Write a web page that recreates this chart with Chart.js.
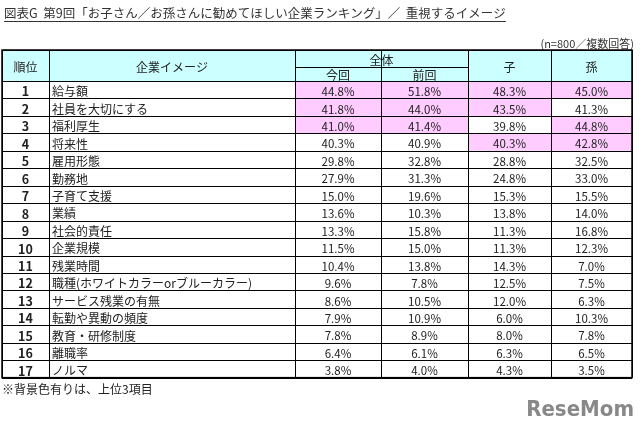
<!DOCTYPE html>
<html lang="ja">
<head>
<meta charset="UTF-8">
<title>企業ランキング</title>
<script src="https://cdn.jsdelivr.net/npm/chart.js"></script>
<style>
  html, body { margin: 0; padding: 0; background: #fff; }
  #wrap { width: 640px; height: 426px; }
</style>
</head>
<body>
<div id="wrap"><canvas id="tbl"></canvas></div>
<script>
const ranks = [1,2,3,4,5,6,7,8,9,10,11,12,13,14,15,16,17];
const images = ['給与額','社員を大切にする','福利厚生','将来性','雇用形態','勤務地','子育て支援','業績','社会的責任','企業規模','残業時間','職種(ホワイトカラーorブルーカラー)','サービス残業の有無','転勤や異動の頻度','教育・研修制度','離職率','ノルマ'];
const konkai = [44.8,41.8,41.0,40.3,29.8,27.9,15.0,13.6,13.3,11.5,10.4,9.6,8.6,7.9,7.8,6.4,3.8];
const zenkai = [51.8,44.0,41.4,40.9,32.8,31.3,19.6,10.3,15.8,15.0,13.8,7.8,10.5,10.9,8.9,6.1,4.0];
const ko     = [48.3,43.5,39.8,40.3,28.8,24.8,15.3,13.8,11.3,11.3,14.3,12.5,12.0,6.0,8.0,6.3,4.3];
const mago   = [45.0,41.3,44.8,42.8,32.5,33.0,15.5,14.0,16.8,12.3,7.0,7.5,6.3,10.3,7.8,6.5,3.5];
const headers = ['順位','企業イメージ','全体','今回','前回','子','孫'];

// column edges (x units) and row geometry
const colEdges = [2, 49, 295, 381, 468, 551, 632];
const tableTop = 50, headMid = 67, headBottom = 81, rowH = 17.45;
const FONT = '"Noto Sans CJK JP", sans-serif';

function top3(arr) {
  const s = [...arr].sort((a, b) => b - a);
  return arr.map(v => v >= s[2]);
}

const tablePlugin = {
  id: 'tablePlugin',
  afterDraw(chart) {
    const ctx = chart.ctx, X = chart.scales.x, Y = chart.scales.y;
    const px = v => X.getPixelForValue(v), py = v => Y.getPixelForValue(v);
    const rowTop = i => headBottom + i * rowH;
    const tableBottom = rowTop(ranks.length);
    ctx.save();
    ctx.textBaseline = 'middle';

    // title
    ctx.fillStyle = '#333';
    ctx.font = '12.5px ' + FONT;
    ctx.textAlign = 'left';
    const title = '図表G  第9回「お子さん／お孫さんに勧めてほしい企業ランキング」／  重視するイメージ';
    ctx.fillText(title, px(4), py(13));
    const tw = ctx.measureText(title).width;
    ctx.strokeStyle = '#333'; ctx.lineWidth = 1;
    ctx.beginPath(); ctx.moveTo(px(4), py(21.5)); ctx.lineTo(px(4) + tw, py(21.5)); ctx.stroke();

    ctx.textAlign = 'right';
    ctx.font = '11px ' + FONT;
    ctx.fillText('(n=800／複数回答)', px(634), py(44));

    // header background
    ctx.fillStyle = '#ccffff';
    ctx.fillRect(px(colEdges[0]), py(tableTop), px(colEdges[6]) - px(colEdges[0]), py(headBottom) - py(tableTop));

    // highlight cells
    const cols = [konkai, zenkai, ko, mago];
    ctx.fillStyle = '#ffccff';
    cols.forEach((arr, c) => {
      const h = top3(arr);
      h.forEach((on, i) => {
        if (on) ctx.fillRect(px(colEdges[c + 2]), py(rowTop(i)), px(colEdges[c + 3]) - px(colEdges[c + 2]), py(rowTop(i + 1)) - py(rowTop(i)));
      });
    });

    // grid lines
    ctx.strokeStyle = '#000'; ctx.lineWidth = 1;
    const hl = (y, x0, x1) => { ctx.beginPath(); ctx.moveTo(px(x0), Math.round(py(y)) + 0.5); ctx.lineTo(px(x1), Math.round(py(y)) + 0.5); ctx.stroke(); };
    const vl = (x, y0, y1) => { ctx.beginPath(); ctx.moveTo(Math.round(px(x)) + 0.5, py(y0)); ctx.lineTo(Math.round(px(x)) + 0.5, py(y1)); ctx.stroke(); };
    hl(tableTop, colEdges[0], colEdges[6]);
    hl(headMid, colEdges[2], colEdges[4]);
    for (let i = 0; i <= ranks.length; i++) hl(rowTop(i), colEdges[0], colEdges[6]);
    colEdges.forEach(x => vl(x, tableTop, tableBottom));
    vl(colEdges[3], headMid, headBottom);
    ctx.lineWidth = 1.5;
    ctx.strokeRect(px(colEdges[0]), py(tableTop), px(colEdges[6]) - px(colEdges[0]), py(tableBottom) - py(tableTop));

    // header text
    ctx.fillStyle = '#222';
    ctx.font = '12px ' + FONT;
    ctx.textAlign = 'center';
    const mid = (a, b) => (px(a) + px(b)) / 2;
    const hy = py((tableTop + headBottom) / 2 + 1.5);
    ctx.fillText(headers[0], mid(colEdges[0], colEdges[1]), hy);
    ctx.fillText(headers[1], mid(colEdges[1], colEdges[2]), hy);
    ctx.fillText(headers[2], mid(colEdges[2], colEdges[4]), py((tableTop + headMid) / 2 + 1.5));
    ctx.fillText(headers[3], mid(colEdges[2], colEdges[3]), py((headMid + headBottom) / 2 + 1.5));
    ctx.fillText(headers[4], mid(colEdges[3], colEdges[4]), py((headMid + headBottom) / 2 + 1.5));
    ctx.fillText(headers[5], mid(colEdges[4], colEdges[5]), hy);
    ctx.fillText(headers[6], mid(colEdges[5], colEdges[6]), hy);

    // body
    ranks.forEach((r, i) => {
      const y = py(rowTop(i) + rowH / 2 + 2);
      ctx.textAlign = 'center';
      ctx.font = 'bold 12.5px ' + FONT;
      ctx.fillText(String(r), mid(colEdges[0], colEdges[1]), y);
      ctx.font = '12px ' + FONT;
      ctx.textAlign = 'left';
      ctx.fillText(images[i], px(colEdges[1] + 3), y);
      ctx.textAlign = 'center';
      ctx.font = '11.5px ' + FONT;
      cols.forEach((arr, c) => ctx.fillText(arr[i].toFixed(1) + '%', mid(colEdges[c + 2], colEdges[c + 3]), y));
    });

    // footnote
    ctx.textAlign = 'left';
    ctx.font = '12px ' + FONT;
    ctx.fillText('※背景色有りは、上位3項目', px(2), py(389));

    // logo
    ctx.fillStyle = '#888';
    ctx.font = 'bold 22px "Liberation Sans Narrow", "DejaVu Sans Condensed", sans-serif';
    ctx.textAlign = 'right';
    ctx.fillText('ReseMom', px(634), py(410));
    ctx.restore();
  }
};

new Chart(document.getElementById('tbl'), {
  type: 'scatter',
  data: { datasets: [{ data: [] }] },
  options: {
    responsive: true,
    maintainAspectRatio: false,
    animation: false,
    layout: { padding: 0 },
    plugins: { legend: { display: false }, tooltip: { enabled: false } },
    scales: {
      x: { type: 'linear', min: 0, max: 640, display: false },
      y: { type: 'linear', min: 0, max: 426, reverse: true, display: false }
    }
  },
  plugins: [tablePlugin]
});
</script>
</body>
</html>
